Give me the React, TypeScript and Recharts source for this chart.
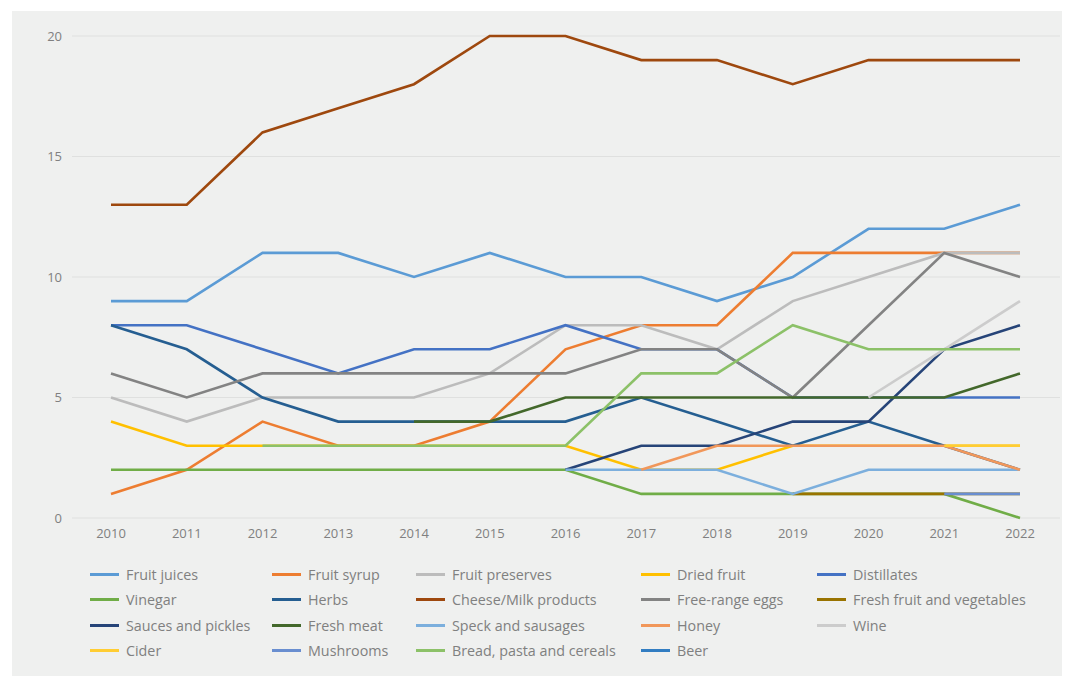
import React from 'react';
import { LineChart, Line, XAxis, YAxis, CartesianGrid, Legend } from 'recharts';

const years = ['2010', '2011', '2012', '2013', '2014', '2015', '2016', '2017', '2018', '2019', '2020', '2021', '2022'];
const yTicks = [0, 5, 10, 15, 20];

type Val = number | null;
const _ = null;

const fruitJuices: Val[] = [9, 9, 11, 11, 10, 11, 10, 10, 9, 10, 12, 12, 13];
const fruitSyrup: Val[] = [1, 2, 4, 3, 3, 4, 7, 8, 8, 11, 11, 11, 11];
const fruitPreserves: Val[] = [5, 4, 5, 5, 5, 6, 8, 8, 7, 9, 10, 11, 11];
const driedFruit: Val[] = [4, 3, 3, 3, 3, 3, 3, 2, 2, 3, 3, 3, 3];
const distillates: Val[] = [8, 8, 7, 6, 7, 7, 8, 7, 7, 5, 5, 5, 5];
const vinegar: Val[] = [2, 2, 2, 2, 2, 2, 2, 1, 1, 1, 1, 1, 0];
const herbs: Val[] = [8, 7, 5, 4, 4, 4, 4, 5, 4, 3, 4, 3, 2];
const cheeseMilk: Val[] = [13, 13, 16, 17, 18, 20, 20, 19, 19, 18, 19, 19, 19];
const freeRangeEggs: Val[] = [6, 5, 6, 6, 6, 6, 6, 7, 7, 5, 8, 11, 10];
const freshFruitVeg: Val[] = [_, _, _, _, _, _, _, _, _, 1, 1, 1, 1];
const saucesPickles: Val[] = [_, _, _, _, _, _, 2, 3, 3, 4, 4, 7, 8];
const freshMeat: Val[] = [_, _, _, _, 4, 4, 5, 5, 5, 5, 5, 5, 6];
const speckSausages: Val[] = [_, _, _, _, _, _, 2, 2, 2, 1, 2, 2, 2];
const honey: Val[] = [_, _, _, _, _, _, _, 2, 3, 3, 3, 3, 2];
const wine: Val[] = [_, _, _, _, _, _, _, _, _, _, 5, 7, 9];
const cider: Val[] = [_, _, _, _, _, _, _, _, _, _, _, 3, 3];
const mushrooms: Val[] = [_, _, _, _, _, _, _, _, _, _, _, 1, 1];
const breadPasta: Val[] = [_, _, 3, 3, 3, 3, 3, 6, 6, 8, 7, 7, 7];
const beer: Val[] = [_, _, _, _, _, _, _, _, _, _, _, _, _];

const series = [
  { name: 'Fruit juices', values: fruitJuices, color: '#5b9bd5' },
  { name: 'Fruit syrup', values: fruitSyrup, color: '#ed7d31' },
  { name: 'Fruit preserves', values: fruitPreserves, color: '#bcbcbc' },
  { name: 'Dried fruit', values: driedFruit, color: '#ffc000' },
  { name: 'Distillates', values: distillates, color: '#4472c4' },
  { name: 'Vinegar', values: vinegar, color: '#70ad47' },
  { name: 'Herbs', values: herbs, color: '#255e91' },
  { name: 'Cheese/Milk products', values: cheeseMilk, color: '#9e480e' },
  { name: 'Free-range eggs', values: freeRangeEggs, color: '#838383' },
  { name: 'Fresh fruit and vegetables', values: freshFruitVeg, color: '#997300' },
  { name: 'Sauces and pickles', values: saucesPickles, color: '#264478' },
  { name: 'Fresh meat', values: freshMeat, color: '#43682b' },
  { name: 'Speck and sausages', values: speckSausages, color: '#7cafdd' },
  { name: 'Honey', values: honey, color: '#f1975a' },
  { name: 'Wine', values: wine, color: '#cccccc' },
  { name: 'Cider', values: cider, color: '#ffcd33' },
  { name: 'Mushrooms', values: mushrooms, color: '#698ed0' },
  { name: 'Bread, pasta and cereals', values: breadPasta, color: '#8cc168' },
  { name: 'Beer', values: beer, color: '#327dc2' },
];

const data = years.map((year, i) => {
  const row: Record<string, string | number | null> = { year };
  series.forEach(s => {
    row[s.name] = s.values[i];
  });
  return row;
});

const FONT = '"Open Sans", "Noto Sans", sans-serif';
const TEXT = '#808080';

// legend columns (x offsets inside chart box)
const colX = [78, 260, 404, 629, 805];

const LegendGrid = () => (
  <div style={{ position: 'relative', width: 1050, height: 128 }}>
    {series.map((s, i) => {
      const col = i % 5;
      const row = Math.floor(i / 5);
      return (
        <div
          key={s.name}
          style={{
            position: 'absolute',
            left: colX[col],
            top: 17 + row * 25.3,
            display: 'flex',
            alignItems: 'center',
            whiteSpace: 'nowrap',
            fontFamily: FONT,
            fontSize: 14.3,
            color: TEXT,
          }}
        >
          <span style={{ display: 'inline-block', width: 29, height: 3, background: s.color, marginRight: 7 }} />
          {s.name}
        </div>
      );
    })}
  </div>
);

export default function App() {
  return (
    <div style={{ position: 'absolute', left: 12, top: 11, width: 1050, height: 665, background: '#eff0ef' }}>
      <LineChart width={1050} height={665} data={data} margin={{ top: 25, right: 2, bottom: 0, left: 20 }}>
        <CartesianGrid vertical={false} stroke="#dfe0df" strokeWidth={1} />
        <XAxis
          dataKey="year"
          axisLine={false}
          tickLine={false}
          padding={{ left: 39, right: 40 }}
          tick={{ fill: TEXT, fontSize: 13, fontFamily: FONT }}
          tickMargin={5}
          height={30}
        />
        <YAxis
          domain={[0, 20]}
          ticks={yTicks}
          axisLine={false}
          tickLine={false}
          width={40}
          tick={{ fill: TEXT, fontSize: 13, fontFamily: FONT }}
          tickMargin={4}
        />
        <Legend verticalAlign="bottom" height={128} content={() => <LegendGrid />} wrapperStyle={{ left: 0, bottom: 0 }} />
        {series.map(s => (
          <Line
            key={s.name}
            type="linear"
            dataKey={s.name}
            stroke={s.color}
            strokeWidth={2.6}
            dot={false}
            activeDot={false}
            isAnimationActive={false}
          />
        ))}
      </LineChart>
    </div>
  );
}
